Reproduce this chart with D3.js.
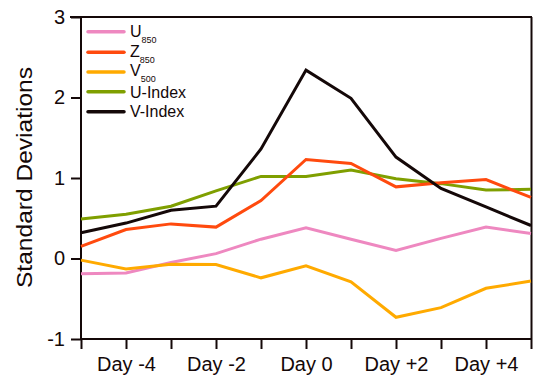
<!DOCTYPE html>
<html>
<head>
<meta charset="utf-8">
<script src="https://cdn.jsdelivr.net/npm/d3@7"></script>
<style>
  html, body { margin: 0; padding: 0; background: #fff; }
  svg { display: block; font-family: "Liberation Sans", Arial, Helvetica, sans-serif; }
</style>
</head>
<body>
<svg id="chart" width="533" height="377"></svg>
<script>
// Composite anomalies (standard deviations) from Day -5 to Day +5
const days = [-5, -4, -3, -2, -1, 0, 1, 2, 3, 4, 5];
const u850   = [-0.19, -0.18, -0.05, 0.06, 0.24, 0.38, 0.24, 0.10, 0.25, 0.39, 0.31];
const z850   = [0.15, 0.36, 0.43, 0.39, 0.72, 1.23, 1.18, 0.89, 0.94, 0.98, 0.76];
const v500   = [-0.02, -0.13, -0.07, -0.075, -0.24, -0.09, -0.29, -0.73, -0.61, -0.37, -0.28];
const uIndex = [0.49, 0.55, 0.65, 0.84, 1.02, 1.02, 1.10, 0.99, 0.93, 0.85, 0.86];
const vIndex = [0.32, 0.44, 0.60, 0.65, 1.36, 2.34, 1.99, 1.26, 0.87, 0.64, 0.41];

const yTicks = [-1, 0, 1, 2, 3];
const xLabelDays = [-4, -2, 0, 2, 4];
const dayLabel = d => d === 0 ? "Day 0" : (d > 0 ? "Day +" + d : "Day " + d);

const series = [
  { name: "U", sub: "850", values: u850,   color: "#EE88C0" },
  { name: "Z", sub: "850", values: z850,   color: "#FF4A0E" },
  { name: "V", sub: "500", values: v500,   color: "#FFAA00" },
  { name: "U-Index", sub: "", values: uIndex, color: "#7F9F00" },
  { name: "V-Index", sub: "", values: vIndex, color: "#140808" }
];
const drawOrder = [3, 0, 2, 1, 4];

const svg = d3.select("#chart");
const axisColor = "#140808";

const x = d3.scaleLinear().domain([-5, 5]).range([81, 531]);
const y = d3.scaleLinear().domain([-1, 3]).range([339, 17]);

// Frame: top and right edges
svg.append("line").attr("x1", 70).attr("x2", 532).attr("y1", y(3)).attr("y2", y(3))
  .attr("stroke", axisColor).attr("stroke-width", 2);
svg.append("line").attr("x1", 531.5).attr("x2", 531.5).attr("y1", y(3)).attr("y2", y(-1))
  .attr("stroke", axisColor).attr("stroke-width", 2);

// Y axis
const yAxis = svg.append("g").attr("transform", `translate(${x(-5)},0)`)
  .call(d3.axisLeft(y).tickValues(yTicks).tickFormat(d => String(d)).tickSize(10).tickPadding(6));
// X axis
const xAxis = svg.append("g").attr("transform", `translate(0,${y(-1)})`)
  .call(d3.axisBottom(x).tickValues(days).tickSize(10).tickFormat(d => xLabelDays.includes(d) ? dayLabel(d) : "").tickPadding(8));

[yAxis, xAxis].forEach(g => {
  g.select(".domain").attr("stroke", axisColor).attr("stroke-width", 2);
  g.selectAll(".tick line").attr("stroke", axisColor).attr("stroke-width", 2);
  g.selectAll(".tick text").attr("fill", axisColor).attr("font-size", 20)
    .attr("font-family", "Liberation Sans, Arial, sans-serif");
});
yAxis.select(".domain").attr("d", `M-10,${y(3)}H0V${y(-1)}`);
xAxis.select(".domain").attr("d", `M${x(-5)},0H${x(5)}`);

// Y axis title
svg.append("text")
  .attr("transform", `translate(32,177.5) rotate(-90)`)
  .attr("text-anchor", "middle")
  .attr("font-size", 22)
  .attr("fill", axisColor)
  .attr("textLength", 221)
  .attr("lengthAdjust", "spacingAndGlyphs")
  .text("Standard Deviations");

// Data lines
const line = d3.line().x((d, i) => x(days[i])).y(d => y(d));
drawOrder.forEach(k => {
  const s = series[k];
  svg.append("path")
    .datum(s.values)
    .attr("fill", "none")
    .attr("stroke", s.color)
    .attr("stroke-width", 3)
    .attr("stroke-linejoin", "miter")
    .attr("d", line);
});

// Legend
const legend = svg.append("g");
const legendY = [31.7, 52.3, 72, 91.7, 111.7];
const legendBase = [36.7, 57.3, 76, 98.3, 117.3];
series.forEach((s, i) => {
  legend.append("line").attr("x1", 88).attr("x2", 124).attr("y1", legendY[i]).attr("y2", legendY[i])
    .attr("stroke", s.color).attr("stroke-width", 3.5).attr("stroke-linecap", "round");
  const t = legend.append("text").attr("x", 130).attr("y", legendBase[i]).attr("font-size", 16).attr("fill", axisColor);
  t.append("tspan").text(s.name);
  if (s.sub) {
    t.append("tspan").attr("dy", 6).attr("font-size", 9).text(s.sub);
  }
});
</script>
</body>
</html>
